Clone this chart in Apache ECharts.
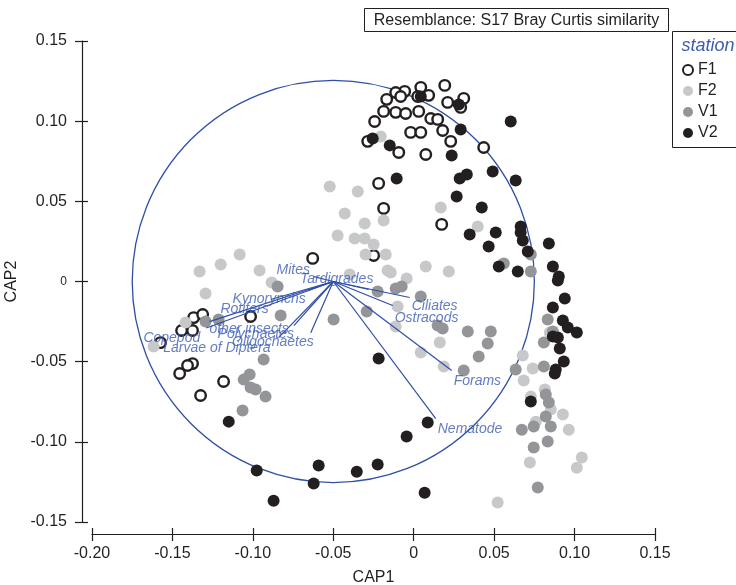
<!DOCTYPE html>
<html>
<head>
<meta charset="utf-8">
<script src="https://cdn.jsdelivr.net/npm/echarts@6/dist/echarts.min.js"></script>
<style>
  html, body { margin: 0; padding: 0; background: #fff; }
  #container { width: 736px; height: 585px; }
</style>
</head>
<body>
<div id="container"></div>
<script>
var dom = document.getElementById("container");
var myChart = echarts.init(dom);

// station samples: [CAP1, CAP2]
var f1 = [
    [0.0193, 0.1223], [-0.0056, 0.1186], [0.0044, 0.1211], [-0.0112, 0.1179], [-0.0168, 0.1136],
    [-0.0081, 0.1154], [0.0025, 0.1154], [0.0093, 0.1161], [0.0311, 0.1142], [0.0211, 0.1117],
    [0.0292, 0.1086], [-0.0187, 0.1061], [-0.0112, 0.1055], [-0.0050, 0.1048], [0.0031, 0.1061],
    [0.0106, 0.1017], [0.0149, 0.1011], [-0.0243, 0.0998], [0.0180, 0.0942], [-0.0019, 0.0930],
    [0.0044, 0.0930], [-0.0286, 0.0874], [0.0230, 0.0874], [-0.0093, 0.0805], [0.0075, 0.0792],
    [0.0435, 0.0836], [-0.0218, 0.0612], [-0.0187, 0.0456], [0.0174, 0.0356], [-0.0628, 0.0144],
    [-0.0249, 0.0162], [-0.1014, -0.0218], [-0.1368, -0.0225], [-0.1312, -0.0206], [-0.1443, -0.0306],
    [-0.1375, -0.0306], [-0.1574, -0.0381], [-0.1375, -0.0512], [-0.1406, -0.0524], [-0.1455, -0.0574],
    [-0.1325, -0.0711], [-0.1182, -0.0624]
];
var f2 = [
    [-0.0522, 0.0593], [-0.0348, 0.0562], [-0.0429, 0.0424], [-0.0305, 0.0362], [-0.0187, 0.0381],
    [-0.0473, 0.0287], [-0.0367, 0.0268], [-0.0305, 0.0268], [-0.0249, 0.0231], [-0.0299, 0.0168],
    [-0.0174, 0.0168], [-0.1082, 0.0168], [0.0168, 0.0462], [0.0398, 0.0343], [-0.0162, 0.0069],
    [-0.0143, 0.0056], [-0.0044, 0.0019], [0.0075, 0.0094], [0.0218, 0.0062], [-0.0398, 0.0044],
    [-0.1200, 0.0106], [-0.1331, 0.0062], [-0.0958, 0.0069], [-0.0883, -0.0006], [-0.1294, -0.0075],
    [-0.1418, -0.0256], [-0.1617, -0.0406], [-0.0100, -0.0156], [-0.0112, -0.0281], [0.0162, -0.0381],
    [0.0044, -0.0443], [0.0187, -0.0530], [0.0678, -0.0462], [0.0740, -0.0543], [0.0684, -0.0618],
    [0.0815, -0.0674], [0.0728, -0.0718], [0.0759, -0.0874], [0.0927, -0.0830], [0.0964, -0.0924],
    [0.1045, -0.1098], [0.1014, -0.1161], [0.0722, -0.1129], [0.0852, -0.0799], [0.0846, -0.0318],
    [0.0522, -0.1379], [-0.0205, 0.0905]
];
var v1 = [
    [-0.0846, -0.0031], [-0.0827, -0.0212], [-0.1213, -0.0237], [-0.1294, -0.0250], [-0.0498, -0.0237],
    [-0.0933, -0.0487], [-0.0224, -0.0062], [-0.0112, -0.0044], [-0.0075, -0.0031], [0.0044, -0.0094],
    [0.0149, -0.0275], [0.0180, -0.0293], [0.0336, -0.0312], [0.0479, -0.0312], [0.0460, -0.0387],
    [0.0404, -0.0468], [0.0311, -0.0555], [-0.0292, -0.0187], [-0.1020, -0.0580], [-0.1057, -0.0612],
    [-0.1014, -0.0661], [-0.0983, -0.0674], [-0.0921, -0.0718], [-0.1064, -0.0805], [0.0634, -0.0549],
    [0.0809, -0.0530], [0.0821, -0.0705], [0.0840, -0.0755], [0.0821, -0.0842], [0.0852, -0.0905],
    [0.0746, -0.0905], [0.0672, -0.0924], [0.0746, -0.1036], [0.0833, -0.0998], [0.0771, -0.1285],
    [0.0809, -0.0381], [0.0560, 0.0112], [0.0728, 0.0168], [0.0728, 0.0062], [0.0833, -0.0237],
    [0.0865, -0.0312]
];
var v2 = [
    [-0.0255, 0.0892], [-0.0149, 0.0849], [0.0292, 0.0948], [0.0603, 0.0998], [0.0236, 0.0786],
    [-0.0106, 0.0643], [0.0286, 0.0643], [0.0330, 0.0668], [0.0491, 0.0686], [0.0634, 0.0630],
    [0.0267, 0.0530], [0.0423, 0.0462], [0.0044, 0.1154], [0.0280, 0.1104], [0.0348, 0.0293],
    [0.0510, 0.0306], [0.0665, 0.0343], [0.0665, 0.0306], [0.0678, 0.0256], [0.0709, 0.0187],
    [0.0466, 0.0218], [0.0529, 0.0094], [0.0647, 0.0062], [0.0840, 0.0237], [0.0865, 0.0094],
    [0.0902, 0.0031], [0.0896, 0.0006], [0.0939, -0.0106], [0.0865, -0.0162], [0.0927, -0.0243],
    [0.0958, -0.0287], [0.1014, -0.0318], [0.0865, -0.0343], [0.0896, -0.0349], [0.0908, -0.0418],
    [0.0933, -0.0499], [0.0883, -0.0549], [0.0877, -0.0574], [0.0728, -0.0749], [-0.0218, -0.0480],
    [0.0087, -0.0880], [-0.0044, -0.0967], [-0.1150, -0.0874], [-0.0591, -0.1148], [-0.0354, -0.1186],
    [-0.0224, -0.1142], [-0.0622, -0.1260], [-0.0976, -0.1179], [-0.0871, -0.1367], [0.0068, -0.1317]
];

// correlation circle and vector origin
var circleCenter = [-0.05, 0];
var circleRadius = 0.125;

// variable vectors: name, tip CAP1, tip CAP2
var vectorNames = ["Nematode", "Forams", "Ostracods", "Ciliates", "Tardigrades", "Mites",
    "Kynorynchs", "Rotifers", "other insects", "Copepod", "Larvae of Diptera", "Polychaetes", "Oligochaetes"];
var vectorX = [0.0137, 0.0236, -0.0131, -0.0025, -0.0280, -0.0620,
    -0.0659, -0.0889, -0.1270, -0.1290, -0.0840, -0.0745, -0.0640];
var vectorY = [-0.0855, -0.0555, -0.0150, -0.0100, -0.0050, 0.0030,
    -0.0056, -0.0112, -0.0250, -0.0290, -0.0350, -0.0275, -0.0320];

var blue = "#2f4ea6";
var labelBlue = "#3d5db3";
var axisColor = "#231f20";
var fontFamily = "Liberation Sans, Arial, Helvetica, sans-serif";

// label placement of each vector name relative to its tip: [side, dx, dy]
var labelPlace = {
    "Nematode": ["right", 0, 11],
    "Forams": ["right", 0, 11],
    "Ostracods": ["right", 0, 13],
    "Ciliates": ["right", 0, 9],
    "Tardigrades": ["inside", -32, -10],
    "Mites": ["left", -2, -7],
    "Kynorynchs": ["left", 0, 9],
    "Rotifers": ["left", 0, 10],
    "other insects": ["right", -2, 8],
    "Copepod": ["left", -4, 10],
    "Larvae of Diptera": ["left", -6, 10],
    "Polychaetes": ["left", 2, 9],
    "Oligochaetes": ["left", 5, 9]
};

var fmtTick = function (v) {
    if (Math.abs(v) < 1e-9) return "0";
    return v.toFixed(2);
};

var vectorLines = vectorNames.map(function (n, i) {
    return { coords: [circleCenter, [vectorX[i], vectorY[i]]] };
});
var vectorTips = vectorNames.map(function (n, i) {
    var p = labelPlace[n];
    return {
        name: n,
        value: [vectorX[i], vectorY[i]],
        label: { position: p[0], distance: 2, offset: [p[1], p[2]] }
    };
});

var gridBox = { left: 92, right: 81, top: 41, bottom: 63, outerBoundsMode: "none", containLabel: false };

var option = {
    animation: false,
    backgroundColor: "#ffffff",
    textStyle: { fontFamily: fontFamily },
    grid: [
        Object.assign({}, gridBox),
        Object.assign({}, gridBox)
    ],
    xAxis: [
        {
            type: "value", gridIndex: 0, min: -0.2, max: 0.15, interval: 0.05,
            position: "bottom", offset: 12,
            name: "CAP1", nameLocation: "middle", nameGap: 36,
            nameTextStyle: { fontSize: 16, color: axisColor, fontFamily: fontFamily },
            axisLine: { show: true, onZero: false, lineStyle: { color: axisColor, width: 1.2 } },
            axisTick: { show: true, length: 7, lineStyle: { color: axisColor, width: 1.2 } },
            axisLabel: { fontSize: 16, color: axisColor, margin: 12, formatter: fmtTick, fontFamily: fontFamily },
            splitLine: { show: false }
        },
        {
            type: "value", gridIndex: 1, min: -0.2, max: 0.15, interval: 0.05,
            position: "bottom", offset: 12,
            axisLine: { show: false, onZero: false },
            axisTick: { show: true, inside: true, length: 6, lineStyle: { color: axisColor, width: 1.2 } },
            axisLabel: { show: false },
            splitLine: { show: false }
        }
    ],
    yAxis: [
        {
            type: "value", gridIndex: 0, min: -0.15, max: 0.15, interval: 0.05,
            position: "left", offset: 10,
            name: "CAP2", nameLocation: "middle", nameGap: 60, nameRotate: 90,
            nameTextStyle: { fontSize: 16, color: axisColor, fontFamily: fontFamily },
            axisLine: { show: true, onZero: false, lineStyle: { color: axisColor, width: 1.2 } },
            axisTick: { show: true, length: 7, lineStyle: { color: axisColor, width: 1.2 } },
            axisLabel: {
                fontSize: 16, color: axisColor, margin: 15, fontFamily: fontFamily,
                formatter: function (v) { return Math.abs(v) < 1e-9 ? "{z|0}" : fmtTick(v); },
                rich: { z: { fontSize: 12, color: axisColor, fontFamily: fontFamily } }
            },
            splitLine: { show: false }
        },
        {
            type: "value", gridIndex: 1, min: -0.15, max: 0.15, interval: 0.05,
            position: "left", offset: 10,
            axisLine: { show: false, onZero: false },
            axisTick: { show: true, inside: true, length: 6, lineStyle: { color: axisColor, width: 1.2 } },
            axisLabel: { show: false },
            splitLine: { show: false }
        }
    ],
    legend: {
        orient: "vertical",
        left: 677,
        top: 57,
        itemWidth: 10,
        itemHeight: 10,
        itemGap: 5,
        icon: "circle",
        data: ["F1", "F2", "V1", "V2"],
        textStyle: { fontSize: 16, color: axisColor, fontFamily: fontFamily, lineHeight: 16 }
    },
    graphic: [
        {
            type: "group", left: 364, top: 8,
            children: [
                { type: "rect", shape: { x: 0, y: 0, width: 304, height: 23 }, style: { fill: "#fff", stroke: "#231f20", lineWidth: 1 } },
                { type: "text", x: 152, y: 12, style: { text: "Resemblance: S17 Bray Curtis similarity", fontSize: 16, fill: "#231f20", fontFamily: fontFamily, textAlign: "center", textVerticalAlign: "middle" } }
            ]
        },
        {
            type: "group", left: 672, top: 31,
            children: [
                { type: "rect", shape: { x: 0, y: 0, width: 80, height: 116 }, style: { fill: "#fff", stroke: "#231f20", lineWidth: 1 } },
                { type: "text", x: 9, y: 5, style: { text: "station", fontSize: 18, fontStyle: "italic", fill: labelBlue, fontFamily: fontFamily } }
            ]
        }
    ],
    series: [
        {
            type: "custom",
            name: "circle",
            xAxisIndex: 0, yAxisIndex: 0,
            silent: true,
            z: 1,
            data: [[circleCenter[0], circleCenter[1], circleRadius]],
            renderItem: function (params, api) {
                var c = api.coord([api.value(0), api.value(1)]);
                var r = api.size([api.value(2), 0])[0];
                return {
                    type: "circle",
                    shape: { cx: c[0], cy: c[1], r: r },
                    style: { fill: "none", stroke: blue, lineWidth: 1.3 }
                };
            }
        },
        {
            type: "scatter", name: "F1", data: f1, symbolSize: 10.5, z: 2,
            itemStyle: { color: "#ffffff", borderColor: "#231f20", borderWidth: 2.4, opacity: 1 }
        },
        {
            type: "scatter", name: "F2", data: f2, symbolSize: 12, z: 2,
            itemStyle: { color: "#c7c8ca", opacity: 1 }
        },
        {
            type: "scatter", name: "V1", data: v1, symbolSize: 12, z: 2,
            itemStyle: { color: "#939598", opacity: 1 }
        },
        {
            type: "scatter", name: "V2", data: v2, symbolSize: 12, z: 2,
            itemStyle: { color: "#231f20", opacity: 1 }
        },
        {
            type: "lines",
            name: "vectors",
            coordinateSystem: "cartesian2d",
            silent: true,
            z: 5,
            data: vectorLines,
            lineStyle: { color: blue, width: 1.2, opacity: 1 }
        },
        {
            type: "scatter",
            name: "vectorLabels",
            symbolSize: 0,
            silent: true,
            z: 6,
            data: vectorTips,
            label: {
                show: true,
                formatter: "{b}",
                fontSize: 14,
                fontStyle: "italic",
                color: labelBlue,
                fontFamily: fontFamily
            }
        }
    ]
};
myChart.setOption(option);
</script>
</body>
</html>
